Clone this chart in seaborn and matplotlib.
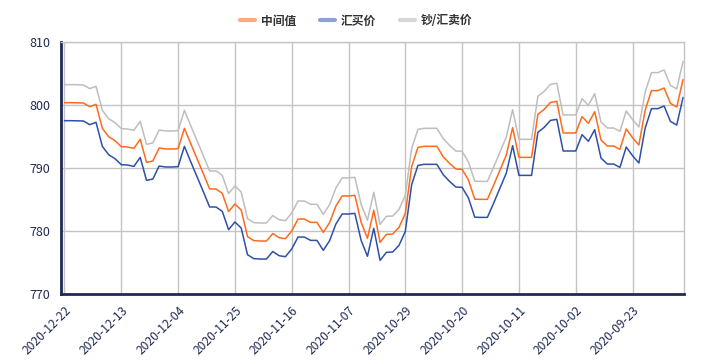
import pandas as pd
import seaborn as sns
import matplotlib.pyplot as plt
from matplotlib.lines import Line2D

# daily dates, newest first (2020-12-22 back to 2020-09-15)
dates = pd.date_range(end="2020-12-22", periods=99)[::-1].strftime("%Y-%m-%d").tolist()

# 中间值
mid = [800.37, 800.37, 800.35, 800.32, 799.74, 800.11, 796.30, 794.97, 794.34, 793.39,
       793.33, 793.12, 794.55, 790.90, 791.11, 793.17, 793.02, 793.02, 793.07, 796.30,
       793.86, 791.48, 789.10, 786.67, 786.67, 785.98, 783.07, 784.29, 783.33, 779.10,
       778.47, 778.41, 778.41, 779.60, 778.94, 778.78, 780.00, 781.90, 781.90, 781.37,
       781.37, 779.79, 781.32, 783.97, 785.56, 785.56, 785.66, 781.37, 778.84, 783.28,
       778.20, 779.47, 779.52, 780.58, 782.80, 790.21, 793.28, 793.44, 793.44, 793.44,
       791.80, 790.74, 789.84, 789.79, 788.10, 785.05, 785.02, 785.02, 787.30, 789.68,
       792.06, 796.40, 791.69, 791.69, 791.69, 798.52, 799.31, 800.42, 800.58, 795.56,
       795.56, 795.56, 798.15, 797.09, 798.94, 794.44, 793.49, 793.49, 792.96, 796.19,
       794.81, 793.65, 799.21, 802.28, 802.28, 802.70, 800.26, 799.68, 804.07]

# 汇买价
buy = [797.51, 797.51, 797.49, 797.46, 796.88, 797.25, 793.44, 792.11, 791.48, 790.53,
       790.47, 790.26, 791.69, 788.04, 788.25, 790.31, 790.16, 790.16, 790.21, 793.44,
       791.00, 788.62, 786.24, 783.81, 783.81, 783.12, 780.21, 781.43, 780.47, 776.24,
       775.61, 775.55, 775.55, 776.74, 776.08, 775.92, 777.14, 779.04, 779.04, 778.51,
       778.51, 776.93, 778.46, 781.11, 782.70, 782.70, 782.80, 778.51, 775.98, 780.42,
       775.34, 776.61, 776.66, 777.72, 779.94, 787.35, 790.42, 790.58, 790.58, 790.58,
       788.94, 787.88, 786.98, 786.93, 785.24, 782.19, 782.16, 782.16, 784.44, 786.82,
       789.20, 793.54, 788.83, 788.83, 788.83, 795.66, 796.45, 797.56, 797.72, 792.70,
       792.70, 792.70, 795.29, 794.23, 796.08, 791.58, 790.63, 790.63, 790.10, 793.33,
       791.95, 790.79, 796.35, 799.42, 799.42, 799.84, 797.40, 796.82, 801.21]

# 钞/汇卖价
sell = [803.23, 803.23, 803.21, 803.18, 802.60, 802.97, 799.16, 797.83, 797.20, 796.25,
        796.19, 795.98, 797.41, 793.76, 793.97, 796.03, 795.88, 795.88, 795.93, 799.16,
        796.72, 794.34, 791.96, 789.53, 789.53, 788.84, 785.93, 787.15, 786.19, 781.96,
        781.33, 781.27, 781.27, 782.46, 781.80, 781.64, 782.86, 784.76, 784.76, 784.23,
        784.23, 782.65, 784.18, 786.83, 788.42, 788.42, 788.52, 784.23, 781.70, 786.14,
        781.06, 782.33, 782.38, 783.44, 785.66, 793.07, 796.14, 796.30, 796.30, 796.30,
        794.66, 793.60, 792.70, 792.65, 790.96, 787.91, 787.88, 787.88, 790.16, 792.54,
        794.92, 799.26, 794.55, 794.55, 794.55, 801.38, 802.17, 803.28, 803.44, 798.42,
        798.42, 798.42, 801.01, 799.95, 801.80, 797.30, 796.35, 796.35, 795.82, 799.05,
        797.67, 796.51, 802.07, 805.14, 805.14, 805.56, 803.12, 802.54, 806.93]

names = ["中间值", "汇买价", "钞/汇卖价"]
colors = ["#FF6A1C", "#2E50A6", "#BEBEBE"]
legend_colors = ["#FFA97F", "#8EA2D2", "#D6D6D6"]
navy = "#1F2A55"

sns.set_style("white")
plt.rcParams['font.family'] = ['Noto Sans CJK SC', 'DejaVu Sans']

fig = plt.figure(figsize=(7.04, 3.62), dpi=100)
ax = fig.add_axes([61 / 704, 1 - 294 / 362, 623 / 704, 252 / 362])

idx = list(range(len(dates)))
for series, name, c in zip([mid, buy, sell], names, colors):
    sns.lineplot(x=idx, y=series, ax=ax, color=c, linewidth=1.1, label=name, legend=False)

ax.set_xlim(-0.55, 98.15)
ax.set_ylim(770, 810)
ax.set_yticks([770, 780, 790, 800, 810])
ax.set_xticks(idx[::9])
ax.set_xticklabels(dates[::9], rotation=45, ha='right', rotation_mode='anchor')

ax.grid(True, color="#C4C4C4", linewidth=1)
ax.set_axisbelow(True)
for side in ["left", "bottom"]:
    ax.spines[side].set_color(navy)
    ax.spines[side].set_linewidth(2)
for side in ["top", "right"]:
    ax.spines[side].set_color("#C4C4C4")
    ax.spines[side].set_linewidth(1)

ax.tick_params(axis='both', direction='in', length=5, width=1.2, color=navy,
               labelcolor=navy, labelsize=8.5)
ax.tick_params(axis='x', pad=7, labelsize=8.7)
ax.tick_params(axis='y', pad=8, labelsize=9)

handles = [Line2D([0], [0], color=c, linewidth=3) for c in legend_colors]
fig.legend(handles, names, loc='center', bbox_to_anchor=(0.506, 0.942), ncol=3,
           frameon=False, handlelength=1.3, handletextpad=0.5, columnspacing=2.0,
           prop={'size': 8.5, 'weight': 'bold'}, labelcolor="#333333")

fig.savefig("out.png", dpi=100)
